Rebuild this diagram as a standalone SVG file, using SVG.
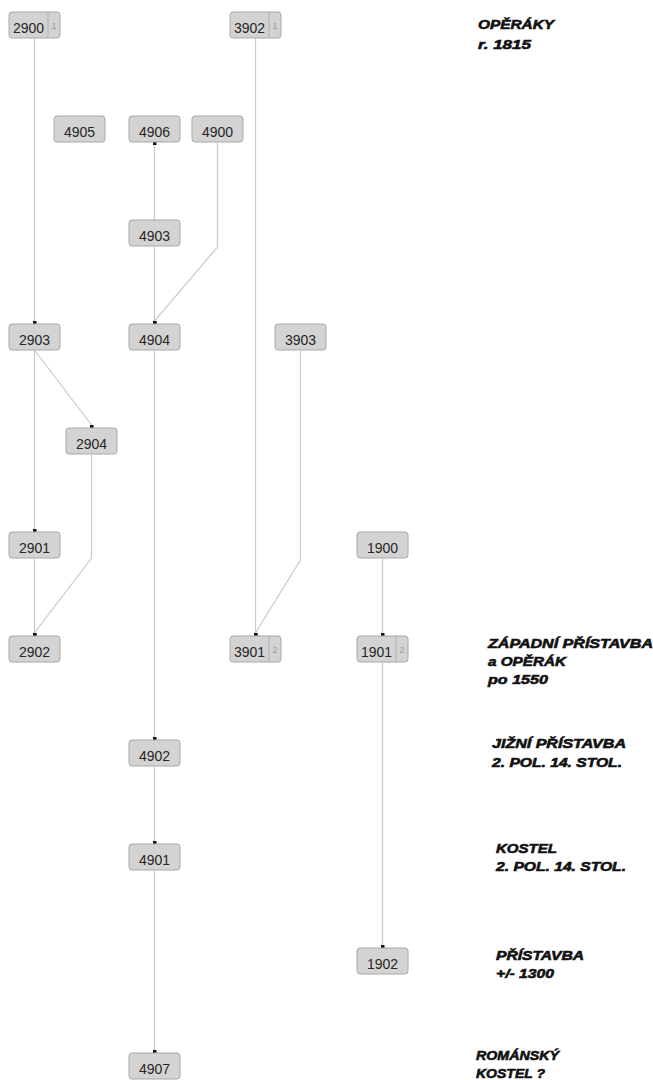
<svg xmlns="http://www.w3.org/2000/svg" width="653" height="1080" viewBox="0 0 653 1080">
<style>
.bg{fill:#ffffff}
.box{fill:#d3d3d3;stroke:#a8a8a8;stroke-width:1}
.num{font-family:"Liberation Sans",Arial,sans-serif;font-size:14px;fill:#262626;text-anchor:middle}
.cnt{font-family:"Liberation Sans",Arial,sans-serif;font-size:9px;fill:#9c9c9c;text-anchor:middle}
.div{stroke:#b0b0b0;stroke-width:1}
.edge{fill:none;stroke:#cbcbcb;stroke-width:1.2;marker-end:url(#sq)}
.lbl{font-family:"Liberation Sans",Arial,sans-serif;font-size:13px;font-weight:bold;font-style:italic;fill:#111;stroke:#111;stroke-width:0.6}
</style>
<defs>
<marker id="sq" viewBox="0 0 3 4" refX="3" refY="2" markerWidth="3" markerHeight="4" markerUnits="userSpaceOnUse" orient="auto">
<rect x="0" y="0" width="3" height="4" fill="#111"/>
</marker>
</defs>
<rect class="bg" x="0" y="0" width="653" height="1080"/>
<g id="connectors">
<path class="edge" d="M34.5 38 V324"/>
<path class="edge" d="M154.5 220 V142"/>
<path class="edge" d="M154.5 246 V324"/>
<path class="edge" d="M217.5 142 V247 L154.5 321 V324"/>
<path class="edge" d="M255.5 38 V636"/>
<path class="edge" d="M34.5 350 V532"/>
<path class="edge" d="M34.5 350 L91.5 425 V428"/>
<path class="edge" d="M91.5 454 V558 L34.5 633 V636"/>
<path class="edge" d="M34.5 558 V636"/>
<path class="edge" d="M154.5 350 V740"/>
<path class="edge" d="M300.5 350 V560 L255.5 633 V636"/>
<path class="edge" d="M382.5 558 V636"/>
<path class="edge" d="M382.5 662 V948"/>
<path class="edge" d="M154.5 766 V844"/>
<path class="edge" d="M154.5 870 V1053"/>
</g>
<g id="n2900"><rect class="box" x="9" y="12" width="51" height="26" rx="3"/><line class="div" x1="48" y1="12" x2="48" y2="38"/><text class="num" x="28.5" y="33">2900</text><text class="cnt" x="54" y="28.5">1</text></g>
<g id="n3902"><rect class="box" x="230" y="12" width="51" height="26" rx="3"/><line class="div" x1="269" y1="12" x2="269" y2="38"/><text class="num" x="249.5" y="33">3902</text><text class="cnt" x="275" y="28.5">1</text></g>
<g id="n4905"><rect class="box" x="54" y="116" width="51" height="26" rx="3"/><text class="num" x="79.5" y="137">4905</text></g>
<g id="n4906"><rect class="box" x="129" y="116" width="51" height="26" rx="3"/><text class="num" x="154.5" y="137">4906</text></g>
<g id="n4900"><rect class="box" x="192" y="116" width="51" height="26" rx="3"/><text class="num" x="217.5" y="137">4900</text></g>
<g id="n4903"><rect class="box" x="129" y="220" width="51" height="26" rx="3"/><text class="num" x="154.5" y="241">4903</text></g>
<g id="n2903"><rect class="box" x="9" y="324" width="51" height="26" rx="3"/><text class="num" x="34.5" y="345">2903</text></g>
<g id="n4904"><rect class="box" x="129" y="324" width="51" height="26" rx="3"/><text class="num" x="154.5" y="345">4904</text></g>
<g id="n3903"><rect class="box" x="275" y="324" width="51" height="26" rx="3"/><text class="num" x="300.5" y="345">3903</text></g>
<g id="n2904"><rect class="box" x="66" y="428" width="51" height="26" rx="3"/><text class="num" x="91.5" y="449">2904</text></g>
<g id="n2901"><rect class="box" x="9" y="532" width="51" height="26" rx="3"/><text class="num" x="34.5" y="553">2901</text></g>
<g id="n1900"><rect class="box" x="357" y="532" width="51" height="26" rx="3"/><text class="num" x="382.5" y="553">1900</text></g>
<g id="n2902"><rect class="box" x="9" y="636" width="51" height="26" rx="3"/><text class="num" x="34.5" y="657">2902</text></g>
<g id="n3901"><rect class="box" x="230" y="636" width="51" height="26" rx="3"/><line class="div" x1="269" y1="636" x2="269" y2="662"/><text class="num" x="249.5" y="657">3901</text><text class="cnt" x="275" y="652.5">2</text></g>
<g id="n1901"><rect class="box" x="357" y="636" width="51" height="26" rx="3"/><line class="div" x1="396" y1="636" x2="396" y2="662"/><text class="num" x="376.5" y="657">1901</text><text class="cnt" x="402" y="652.5">2</text></g>
<g id="n4902"><rect class="box" x="129" y="740" width="51" height="26" rx="3"/><text class="num" x="154.5" y="761">4902</text></g>
<g id="n4901"><rect class="box" x="129" y="844" width="51" height="26" rx="3"/><text class="num" x="154.5" y="865">4901</text></g>
<g id="n1902"><rect class="box" x="357" y="948" width="51" height="26" rx="3"/><text class="num" x="382.5" y="969">1902</text></g>
<g id="n4907"><rect class="box" x="129" y="1053" width="51" height="26" rx="3"/><text class="num" x="154.5" y="1074">4907</text></g>
<g id="labels">
<text class="lbl" x="478" y="29" textLength="76" lengthAdjust="spacingAndGlyphs">OPĚRÁKY</text>
<text class="lbl" x="478" y="49" textLength="53" lengthAdjust="spacingAndGlyphs">r. 1815</text>
<text class="lbl" x="488" y="648" textLength="165" lengthAdjust="spacingAndGlyphs">ZÁPADNÍ PŘÍSTAVBA</text>
<text class="lbl" x="488" y="666" textLength="78" lengthAdjust="spacingAndGlyphs">a OPĚRÁK</text>
<text class="lbl" x="488" y="684" textLength="60" lengthAdjust="spacingAndGlyphs">po 1550</text>
<text class="lbl" x="492" y="748" textLength="134" lengthAdjust="spacingAndGlyphs">JIŽNÍ PŘÍSTAVBA</text>
<text class="lbl" x="492" y="767" textLength="130" lengthAdjust="spacingAndGlyphs">2. POL. 14. STOL.</text>
<text class="lbl" x="496" y="853" textLength="61" lengthAdjust="spacingAndGlyphs">KOSTEL</text>
<text class="lbl" x="496" y="871" textLength="130" lengthAdjust="spacingAndGlyphs">2. POL. 14. STOL.</text>
<text class="lbl" x="496" y="960" textLength="88" lengthAdjust="spacingAndGlyphs">PŘÍSTAVBA</text>
<text class="lbl" x="496" y="978" textLength="58" lengthAdjust="spacingAndGlyphs">+/- 1300</text>
<text class="lbl" x="476" y="1060" textLength="83" lengthAdjust="spacingAndGlyphs">ROMÁNSKÝ</text>
<text class="lbl" x="476" y="1078" textLength="69" lengthAdjust="spacingAndGlyphs">KOSTEL ?</text>
</g>
</svg>
